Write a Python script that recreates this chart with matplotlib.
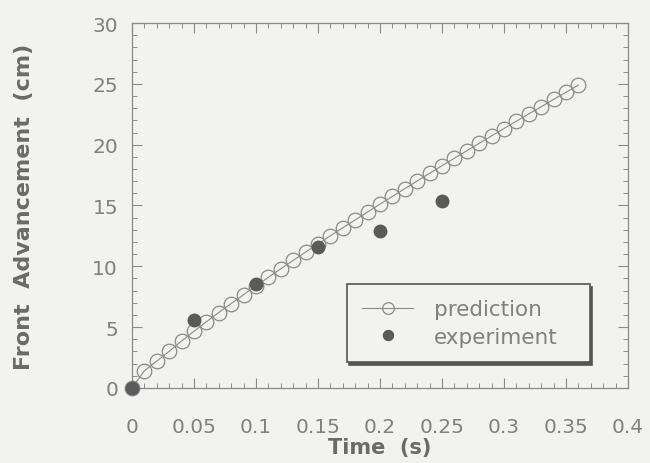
import matplotlib.pyplot as plt
from matplotlib.ticker import MultipleLocator

# prediction curve (step 0.01 s)
pred_time = [0.00, 0.01, 0.02, 0.03, 0.04, 0.05, 0.06, 0.07, 0.08, 0.09,
             0.10, 0.11, 0.12, 0.13, 0.14, 0.15, 0.16, 0.17, 0.18, 0.19,
             0.20, 0.21, 0.22, 0.23, 0.24, 0.25, 0.26, 0.27, 0.28, 0.29,
             0.30, 0.31, 0.32, 0.33, 0.34, 0.35, 0.36]
pred_front = [0.0, 1.4, 2.2, 3.0, 3.85, 4.65, 5.43, 6.19, 6.93, 7.66,
              8.38, 9.09, 9.79, 10.48, 11.16, 11.83, 12.50, 13.16, 13.81, 14.46,
              15.11, 15.74, 16.38, 17.01, 17.64, 18.27, 18.88, 19.50, 20.11, 20.72,
              21.33, 21.93, 22.53, 23.12, 23.72, 24.31, 24.9]

# measured points
exp_time = [0.0, 0.05, 0.10, 0.15, 0.20, 0.25]
exp_front = [0.0, 5.6, 8.5, 11.6, 12.9, 15.4]

bg = "#f2f2f0"
txt = "#808080"

plt.rcParams["font.family"] = ["DejaVu Sans"]

fig = plt.figure(figsize=(6.5, 4.64), dpi=100, facecolor=bg)
ax = fig.add_axes([0.203, 0.162, 0.763, 0.786], facecolor=bg)

ax.plot(pred_time, pred_front, color="#8a8a8a", lw=0.8, marker="o",
        markersize=10.5, markerfacecolor="none", markeredgecolor="#8a8a8a",
        markeredgewidth=0.9, label="prediction", clip_on=False)
ax.plot(exp_time, exp_front, linestyle="none", marker="o", markersize=9,
        color="#5a5a5a", label="experiment", clip_on=False, zorder=3)

ax.set_xlim(0, 0.4)
ax.set_ylim(0, 30)
ax.xaxis.set_major_locator(MultipleLocator(0.05))
ax.xaxis.set_minor_locator(MultipleLocator(0.01))
ax.yaxis.set_major_locator(MultipleLocator(5))
ax.yaxis.set_minor_locator(MultipleLocator(1))
ax.xaxis.set_major_formatter(lambda v, p: f"{v:g}")

ax.tick_params(which="both", direction="in", top=True, right=True,
               colors="#8a8a8a", labelcolor=txt, labelsize=14.5)
ax.tick_params(which="major", length=7, width=0.8)
ax.tick_params(axis="x", which="major", pad=21)
ax.tick_params(axis="y", which="major", pad=10)
ax.tick_params(which="minor", length=3.5, width=0.7)
for s in ax.spines.values():
    s.set_color("#8a8a8a")
    s.set_linewidth(0.9)

ax.set_xlabel("Time  (s)", fontsize=15, color="#6a6a6a", fontweight="bold",
              labelpad=1)
ax.set_ylabel("Front  Advancement  (cm)", fontsize=16, color="#6a6a6a",
              fontweight="bold", labelpad=42)

leg = ax.legend(loc="lower left", bbox_to_anchor=(0.433, 0.071, 0.49, 0.22),
                mode="expand", borderaxespad=0, fontsize=15.5, frameon=True,
                fancybox=False, shadow={"color": "#555555", "alpha": 1},
                handlelength=2.4, borderpad=0.7, labelspacing=0.35,
                markerscale=0.8, handletextpad=0.95)
leg.get_frame().set_edgecolor("#555555")
leg.get_frame().set_linewidth(1.2)
leg.get_frame().set_facecolor(bg)
for t in leg.get_texts():
    t.set_color(txt)

fig.savefig("out.png", dpi=100, facecolor=bg)
